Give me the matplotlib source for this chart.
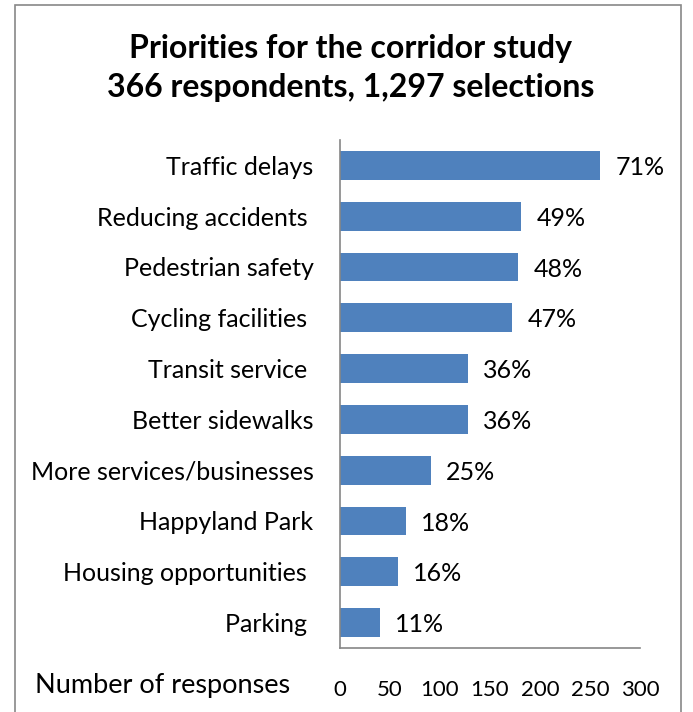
import matplotlib.pyplot as plt
from matplotlib.patches import Rectangle

plt.rcParams["font.family"] = ["Lato", "DejaVu Sans"]

# data
categories = ["Traffic delays", "Reducing accidents ", "Pedestrian safety",
              "Cycling facilities ", "Transit service ", "Better sidewalks",
              "More services/businesses", "Happyland Park",
              "Housing opportunities ", "Parking "]
responses = [260, 181, 178, 172, 128, 128, 91, 66, 58, 40]
percent_labels = ["71%", "49%", "48%", "47%", "36%", "36%", "25%", "18%", "16%", "11%"]
x_ticks = [0, 50, 100, 150, 200, 250, 300]

fig = plt.figure(figsize=(6.93, 7.12), dpi=100)
fig.patch.set_facecolor("white")

# outer chart frame
fig.patches.append(Rectangle((15 / 693, -0.01), 666 / 693, 1 - 5 / 712 + 0.01,
                             transform=fig.transFigure, fill=False,
                             edgecolor="#888888", linewidth=1.2))

ax = fig.add_axes([340 / 693, 1 - 648 / 712, 300 / 693, 508 / 712])

# plot from bottom (Parking) to top (Traffic delays)
ypos = list(range(len(categories)))[::-1]
ax.barh(ypos, responses, height=0.57, color="#4F81BD")

for y, v, lab in zip(ypos, responses, percent_labels):
    ax.annotate(lab, (v, y), xytext=(11, -1.5), textcoords="offset points",
                va="center", ha="left", fontsize=18, color="black")

ax.set_xlim(0, 300)
ax.set_ylim(-0.5, len(categories) - 0.5)
ax.set_yticks(ypos)
ax.set_yticklabels(categories, fontsize=18)
ax.set_xticks(x_ticks)
ax.set_xticklabels([str(t) for t in x_ticks], fontsize=16)
ax.tick_params(axis="y", length=0, pad=19)
ax.tick_params(axis="x", length=0, pad=23)

for s in ["top", "right"]:
    ax.spines[s].set_visible(False)
for s in ["left", "bottom"]:
    ax.spines[s].set_color("#868686")
    ax.spines[s].set_linewidth(1.2)

fig.text(35 / 693, 1 - 686 / 712, "Number of responses", fontsize=19.5,
         ha="left", va="center")

fig.text(351 / 693, 1 - 68 / 712,
         "Priorities for the corridor study\n366 respondents, 1,297 selections",
         fontsize=23, fontweight="bold", ha="center", va="center",
         linespacing=1.45)

fig.savefig("out.png", dpi=100)
